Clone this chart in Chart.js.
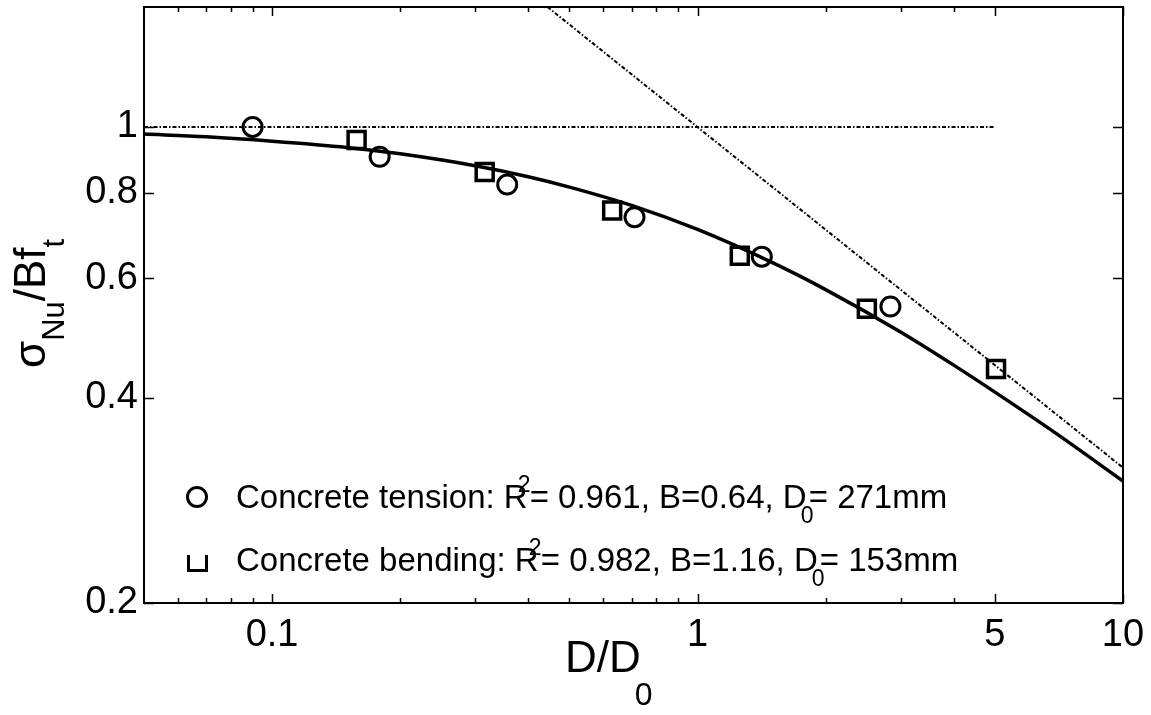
<!DOCTYPE html>
<html>
<head>
<meta charset="utf-8">
<script src="https://cdn.jsdelivr.net/npm/chart.js@4.4.1/dist/chart.umd.min.js"></script>
<style>
  html, body { margin:0; padding:0; background:#fff; }
  #wrap { width:1151px; height:715px; }
</style>
</head>
<body>
<div id="wrap"><canvas id="c" width="1151" height="715"></canvas></div>
<script>
// ---- data ----
const tensionX = [0.09, 0.179, 0.357, 0.711, 1.416, 2.84];
const tensionY = [1.0, 0.904, 0.823, 0.737, 0.645, 0.545];
const bendingX = [0.158, 0.316, 0.630, 1.257, 2.50, 5.03];
const bendingY = [0.957, 0.859, 0.754, 0.647, 0.541, 0.441];
const fitX = [0.05, 0.07, 0.1, 0.15, 0.2, 0.3, 0.4, 0.5, 0.7, 1, 1.5, 2, 3, 4, 5, 7, 10];
const fitY = [0.976, 0.967, 0.953, 0.933, 0.913, 0.877, 0.845, 0.816, 0.767, 0.707, 0.632, 0.577, 0.5, 0.447, 0.408, 0.354, 0.302];
const strengthX = [0.05, 5];
const strengthY = [1, 1];
const lefmX = [0.444, 10];
const lefmY = [1.5, 0.316];
const xTickLabels = [0.1, 1, 5, 10];
const xMinorTicks = [0.06, 0.07, 0.08, 0.09, 0.2, 0.3, 0.4, 0.5, 0.6, 0.7, 0.8, 0.9, 2, 3, 4];
const yTickLabels = [0.2, 0.4, 0.6, 0.8, 1];
const legendTension = ["Concrete tension: R", "2", "= 0.961, B=0.64, D", "0", "= 271mm"];
const legendBending = ["Concrete bending: R", "2", "= 0.982, B=1.16, D", "0", "= 153mm"];

const FONT = '"Liberation Sans", Arial, Helvetica, sans-serif';
const pts = (xs, ys) => xs.map((x, i) => ({x: x, y: ys[i]}));

function drawLegendLine(ctx, parts, x, y) {
  ctx.textAlign = 'left';
  ctx.textBaseline = 'alphabetic';
  ctx.fillStyle = '#000';
  const big = '33px ' + FONT, small = '23px ' + FONT;
  ctx.font = big; ctx.fillText(parts[0], x, y); x += ctx.measureText(parts[0]).width;
  ctx.font = small; ctx.fillText(parts[1], x - 10, y - 16);
  x += 2;
  ctx.font = big; ctx.fillText(parts[2], x, y); x += ctx.measureText(parts[2]).width;
  ctx.font = small; ctx.fillText(parts[3], x - 6, y + 15);
  x += 2;
  ctx.font = big; ctx.fillText(parts[4], x, y);
}

const decor = {
  id: 'decor',
  afterDraw(chart) {
    const ctx = chart.ctx, a = chart.chartArea;
    const xs = chart.scales.x, ys = chart.scales.y;
    ctx.save();
    ctx.strokeStyle = '#000';
    // ticks (inward, mirrored)
    ctx.lineWidth = 1.5;
    ctx.beginPath();
    const xt = (v, len) => {
      const px = Math.round(xs.getPixelForValue(v)) + 0.5;
      ctx.moveTo(px, a.bottom); ctx.lineTo(px, a.bottom - len);
      ctx.moveTo(px, a.top); ctx.lineTo(px, a.top + len);
    };
    xTickLabels.forEach(v => xt(v, 9));
    xMinorTicks.forEach(v => xt(v, 5));
    yTickLabels.forEach(v => {
      const py = Math.round(ys.getPixelForValue(v)) + 0.5;
      ctx.moveTo(a.left, py); ctx.lineTo(a.left + 10, py);
      ctx.moveTo(a.right, py); ctx.lineTo(a.right - 10, py);
    });
    ctx.stroke();
    // frame
    ctx.lineWidth = 2;
    ctx.strokeRect(a.left, a.top, a.right - a.left, a.bottom - a.top);

    // legend
    ctx.lineWidth = 3;
    ctx.beginPath(); ctx.arc(197, 497, 9.5, 0, Math.PI * 2); ctx.stroke();
    ctx.beginPath();
    ctx.moveTo(188.5, 555); ctx.lineTo(188.5, 570.5); ctx.lineTo(206.5, 570.5); ctx.lineTo(206.5, 555);
    ctx.stroke();
    drawLegendLine(ctx, legendTension, 236, 508);
    drawLegendLine(ctx, legendBending, 236, 571);

    // x title
    ctx.fillStyle = '#000';
    ctx.textBaseline = 'alphabetic';
    ctx.textAlign = 'left';
    ctx.font = '44px ' + FONT;
    const t1 = 'D/D';
    const w1 = ctx.measureText(t1).width;
    const x0 = 565;
    ctx.fillText(t1, x0, 672);
    ctx.font = '32px ' + FONT;
    ctx.fillText('0', x0 + w1 - 6, 705);

    // y title (rotated)
    ctx.save();
    ctx.translate(45, 368);
    ctx.rotate(-Math.PI / 2);
    let p = 0;
    ctx.font = '44px ' + FONT; ctx.fillText('σ', p, 0); p += ctx.measureText('σ').width;
    ctx.font = '31px ' + FONT; ctx.fillText('Nu', p, 19); p += ctx.measureText('Nu').width;
    ctx.font = '44px ' + FONT; ctx.fillText('/Bf', p, 0); p += ctx.measureText('/Bf').width;
    ctx.font = '31px ' + FONT; ctx.fillText('t', p, 19);
    ctx.restore();

    ctx.restore();
  }
};

new Chart(document.getElementById('c'), {
  type: 'scatter',
  data: {
    datasets: [
      { data: pts(strengthX, strengthY), showLine: true, borderColor: '#000', borderWidth: 2,
        borderDash: [4, 2, 1.5, 2], pointRadius: 0, fill: false },
      { data: pts(lefmX, lefmY), showLine: true, borderColor: '#000', borderWidth: 2,
        borderDash: [4, 2, 1.5, 2], pointRadius: 0, fill: false },
      { data: pts(fitX, fitY), showLine: true, borderColor: '#000', borderWidth: 3.5,
        pointRadius: 0, fill: false, cubicInterpolationMode: 'monotone' },
      { data: pts(tensionX, tensionY), pointStyle: 'circle', pointRadius: 9.5, borderWidth: 3,
        borderColor: '#000', backgroundColor: 'rgba(0,0,0,0)' },
      { data: pts(bendingX, bendingY), pointStyle: 'rect', pointRadius: 12, borderWidth: 3.5,
        borderColor: '#000', backgroundColor: 'rgba(0,0,0,0)' }
    ]
  },
  options: {
    responsive: false,
    devicePixelRatio: 1,
    animation: false,
    layout: { autoPadding: false, padding: { left: 0, top: 7, right: 28, bottom: 0 } },
    plugins: { legend: { display: false }, tooltip: { enabled: false } },
    scales: {
      x: {
        type: 'logarithmic', min: 0.05, max: 10,
        grid: { display: false, drawTicks: false },
        border: { display: false },
        afterBuildTicks: s => { s.ticks = xTickLabels.map(v => ({ value: v })); },
        afterFit: s => { s.height = 112; s.paddingLeft = 0; s.paddingRight = 0; },
        ticks: {
          autoSkip: false, maxRotation: 0, padding: 10,
          color: '#000', font: { family: FONT, size: 38 },
          callback: v => String(v)
        }
      },
      y: {
        type: 'logarithmic', min: 0.2, max: 1.5,
        grid: { display: false, drawTicks: false },
        border: { display: false },
        afterBuildTicks: s => { s.ticks = yTickLabels.map(v => ({ value: v })); },
        afterFit: s => { s.width = 144; s.paddingTop = 0; s.paddingBottom = 0; },
        ticks: {
          autoSkip: false, padding: 6,
          color: '#000', font: { family: FONT, size: 38, lineHeight: 0.3 },
          callback: v => String(v)
        }
      }
    }
  },
  plugins: [decor]
});
</script>
</body>
</html>
